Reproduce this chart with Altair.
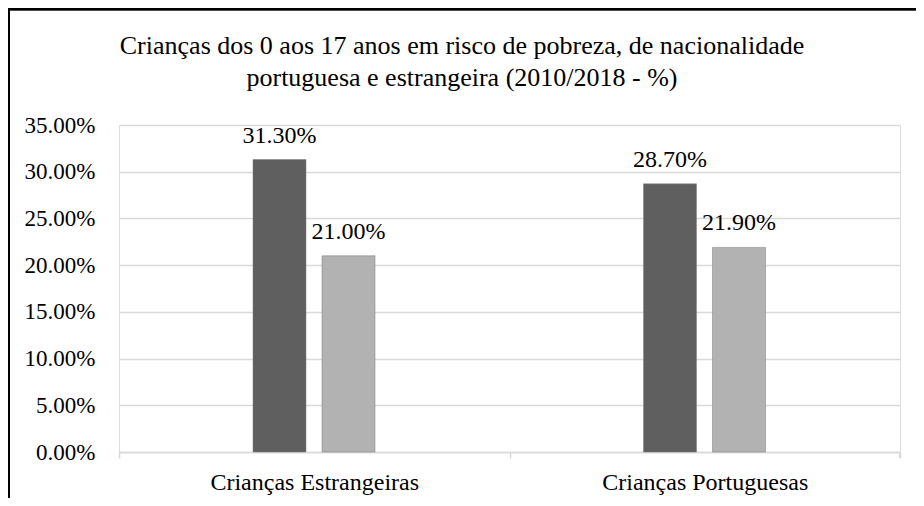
import altair as alt
import pandas as pd

categories = ["Crianças Estrangeiras", "Crianças Portuguesas"]
years = ["2010", "2018"]
values_2010 = [0.313, 0.287]
values_2018 = [0.210, 0.219]
y_ticks = [0, 0.05, 0.10, 0.15, 0.20, 0.25, 0.30, 0.35]
title_lines = ["Crianças dos 0 aos 17 anos em risco de pobreza, de nacionalidade",
               "portuguesa e estrangeira (2010/2018 - %)"]

rows = []
for c, a, b in zip(categories, values_2010, values_2018):
    rows.append({"cat": c, "ano": years[0], "v": a})
    rows.append({"cat": c, "ano": years[1], "v": b})
df = pd.DataFrame(rows)

FONT = "Liberation Serif"
W, H = 781, 327
PL, PT, PR, PB = 111, 117, 16, 46

xenc = alt.X("cat:N", sort=categories, title=None,
             scale=alt.Scale(paddingInner=0, paddingOuter=0),
             axis=alt.Axis(labelAngle=0, labelFont=FONT, labelFontSize=24, labelColor="#000",
                           labelLimit=400,
                           domainColor="#d9d9d9", domainWidth=1.5, tickColor="#d9d9d9",
                           tickWidth=1.5, tickSize=6, tickBand="extent", labelPadding=12,
                           grid=False))
xoff = alt.XOffset("ano:N", sort=years,
                   scale=alt.Scale(paddingInner=0.232, paddingOuter=0, range=[134, 256]))
yenc = alt.Y("v:Q", title=None,
             scale=alt.Scale(domain=[0, 0.35], nice=False),
             axis=alt.Axis(values=y_ticks, format=".2%", labelFont=FONT, labelFontSize=23,
                           labelColor="#000", domain=False, ticks=False, labelPadding=24,
                           gridColor="#d9d9d9", gridWidth=1.5))
color = alt.Color("ano:N", sort=years,
                  scale=alt.Scale(domain=years, range=["#5f5f5f", "#b2b2b2"]), legend=None)

bars = alt.Chart(df).mark_bar(stroke="#7a7a7a", strokeWidth=0.5).encode(
    x=xenc, xOffset=xoff, y=yenc, color=color)
labels = alt.Chart(df).mark_text(font=FONT, fontSize=24, color="#000", dy=-17,
                                 baseline="alphabetic").encode(
    x=alt.X("cat:N", sort=categories), xOffset=xoff, y="v:Q",
    text=alt.Text("v:Q", format=".2%"))

endtick = alt.Chart(df).mark_rule(color="#d9d9d9", strokeWidth=1.5).encode(
    x=alt.value(W), y=alt.value(H), y2=alt.value(H + 6))
border_left = alt.Chart(df).mark_rule(color="#000", strokeWidth=2).encode(
    x=alt.value(-PL + 1), y=alt.value(-PT), y2=alt.value(H + PB))
border_top = alt.Chart(df).mark_rule(color="#000", strokeWidth=2.5).encode(
    x=alt.value(-PL), x2=alt.value(W + PR), y=alt.value(-PT + 1))

chart = alt.layer(bars, labels, endtick, border_left, border_top).properties(
    width=W, height=H,
    title=alt.Title(title_lines, font=FONT, fontSize=26, fontWeight="normal", color="#000",
                    anchor="middle", frame="bounds", offset=-84, lineHeight=32),
    autosize=alt.AutoSizeParams(type="none"),
    padding={"left": PL, "top": PT, "right": PR, "bottom": PB},
).configure_view(stroke=None).configure(background="white")

chart.save("out.html", embed_options={"renderer": "svg", "actions": False})
